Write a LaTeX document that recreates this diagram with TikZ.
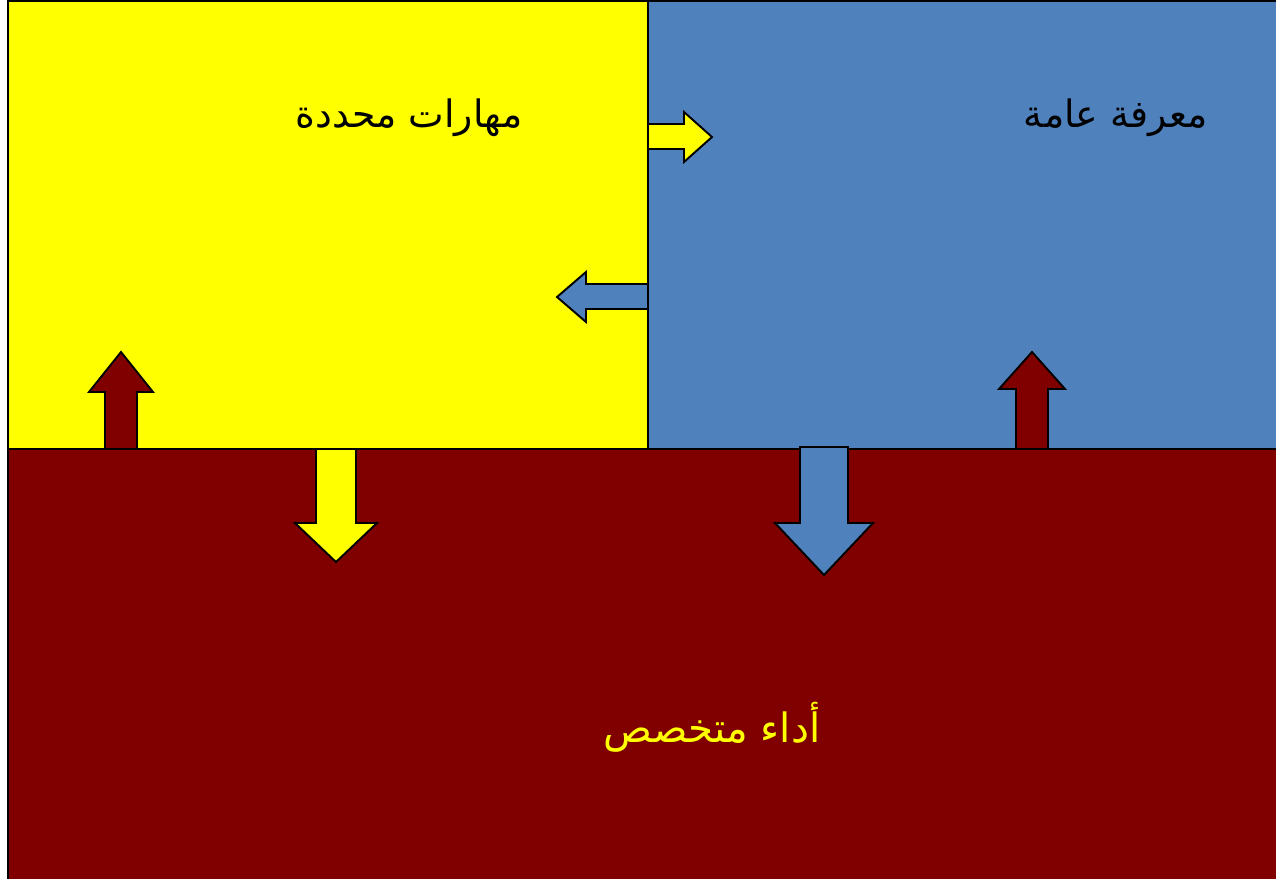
\documentclass[tikz,border=0pt]{standalone}
\usepackage{fontspec}
\newfontfamily\arabicfont[Script=Arabic]{DejaVu Sans}
\TeXXeTstate=1
\definecolor{skillyellow}{HTML}{FFFF00}
\definecolor{knowblue}{HTML}{4F81BD}
\definecolor{perfred}{HTML}{800000}
\tikzset{
    panel/.style={draw=black, line width=1.1pt},
    flow/.style={draw=black, line width=1.1pt, line join=miter},
    areatext/.style={font=\arabicfont\fontsize{21.5}{24}\selectfont, inner sep=0pt}
}
\begin{document}
\begin{tikzpicture}[x=0.02cm, y=-0.02cm]
    \useasboundingbox (0, 0) rectangle (1276, 879);
    \clip (0, 0) rectangle (1276, 879);

    \draw [panel, fill=perfred] (8, 449) rectangle (1290, 900);
    \draw [panel, fill=skillyellow] (8, 1) rectangle (648, 449);
    \draw [panel, fill=knowblue] (648, 1) rectangle (1290, 449);

    \draw [flow, fill=skillyellow] (648, 124) -- (684, 124) -- (684, 112) -- (712, 137) -- (684, 162) -- (684, 149) -- (648, 149) -- cycle;
    \draw [flow, fill=knowblue] (648, 284) -- (586, 284) -- (586, 272) -- (557, 297) -- (586, 322) -- (586, 309) -- (648, 309) -- cycle;

    \draw [flow, fill=perfred] (105, 449) -- (105, 392) -- (89, 392) -- (121, 352) -- (153, 392) -- (137, 392) -- (137, 449) -- cycle;
    \draw [flow, fill=skillyellow] (316, 449) -- (316, 523) -- (295, 523) -- (336, 562) -- (377, 523) -- (356, 523) -- (356, 449) -- cycle;
    \draw [flow, fill=knowblue] (800, 447) -- (800, 523) -- (775, 523) -- (824, 575) -- (873, 523) -- (848, 523) -- (848, 447) -- cycle;
    \draw [flow, fill=perfred] (1016, 449) -- (1016, 389) -- (999, 389) -- (1032, 352) -- (1065, 389) -- (1048, 389) -- (1048, 449) -- cycle;

    \node [areatext] (skills) at (409, 118) {\beginR مهارات محددة\endR};
    \node [areatext] (knowledge) at (1116, 118) {\beginR معرفة عامة\endR};
    \node [areatext, text=skillyellow, font=\arabicfont\fontsize{23}{26}\selectfont] (performance) at (712, 727) {\beginR أداء متخصص\endR};
\end{tikzpicture}
\end{document}
